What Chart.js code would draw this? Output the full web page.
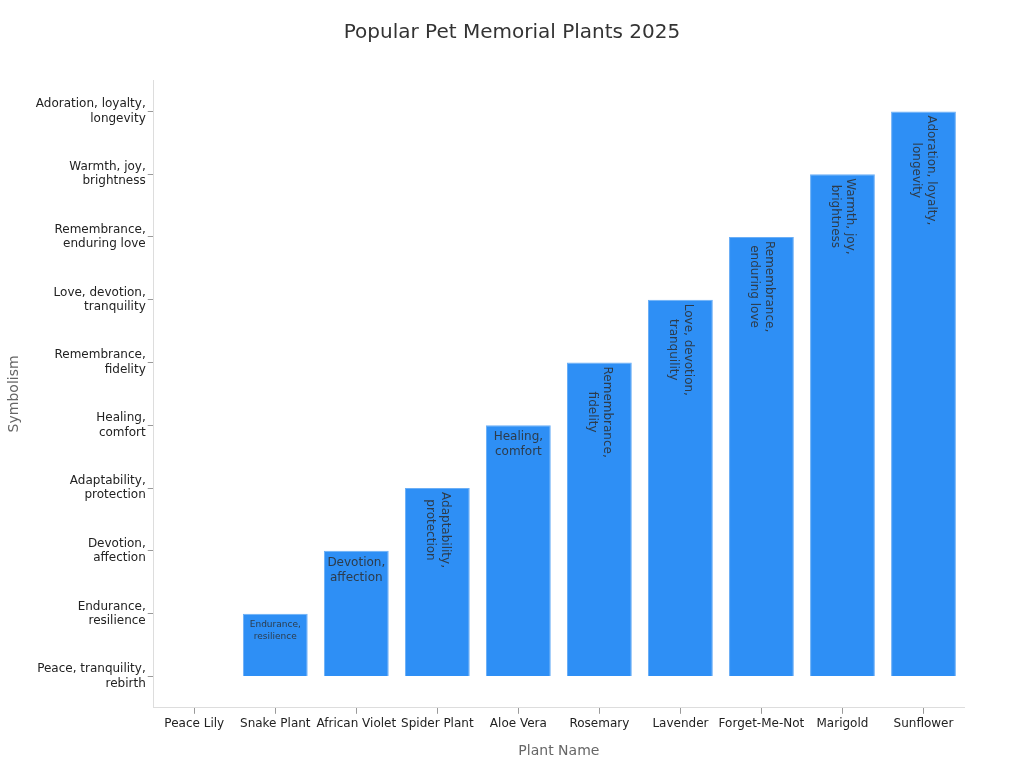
<!DOCTYPE html>
<html>
<head>
<meta charset="utf-8">
<script src="https://cdn.jsdelivr.net/npm/chart.js@4.4.1/dist/chart.umd.min.js"></script>
<style>
  html, body { margin: 0; padding: 0; background: #fff; }
  #wrap { width: 1024px; height: 768px; }
</style>
</head>
<body>
<div id="wrap"><canvas id="chart" width="1024" height="768"></canvas></div>
<script>
// plant names along the x axis
const plants = ['Peace Lily', 'Snake Plant', 'African Violet', 'Spider Plant', 'Aloe Vera',
    'Rosemary', 'Lavender', 'Forget-Me-Not', 'Marigold', 'Sunflower'];

// symbolism categories on the y axis (index = value)
const symbols = ['Peace, tranquility, rebirth', 'Endurance, resilience', 'Devotion, affection',
    'Adaptability, protection', 'Healing, comfort', 'Remembrance, fidelity',
    'Love, devotion, tranquility', 'Remembrance, enduring love', 'Warmth, joy, brightness',
    'Adoration, loyalty, longevity'];

// which symbolism each plant maps to
const symbolIndex = [0, 1, 2, 3, 4, 5, 6, 7, 8, 9];

const chartTitle = 'Popular Pet Memorial Plants 2025';

const FONT = '"DejaVu Sans", sans-serif';

// break a label after its last comma
function wrap(s) {
    const k = s.lastIndexOf(', ');
    if (k < 0) return [s];
    return [s.slice(0, k + 1), s.slice(k + 2)];
}

// title centred on the whole canvas (chart padding is lopsided)
const centredTitle = {
    id: 'centredTitle',
    afterDraw(chart) {
        const ctx = chart.ctx;
        ctx.save();
        ctx.fillStyle = '#333';
        ctx.font = '20px ' + FONT;
        ctx.textAlign = 'center';
        ctx.textBaseline = 'middle';
        ctx.fillText(chartTitle, chart.width / 2, 33);
        ctx.restore();
    }
};

const barLabels = {
    id: 'barLabels',
    afterDatasetsDraw(chart) {
        const ctx = chart.ctx;
        const meta = chart.getDatasetMeta(0);
        meta.data.forEach((bar, i) => {
            const v = symbolIndex[i];
            if (!v) return;
            const lines = wrap(symbols[v]);
            const h = bar.base - bar.y;
            ctx.save();
            ctx.fillStyle = 'rgba(45,45,45,0.85)';
            ctx.textBaseline = 'middle';
            ctx.textAlign = 'center';
            ctx.font = '12px ' + FONT;
            const maxW = Math.max(...lines.map(l => ctx.measureText(l).width));
            if (maxW <= bar.width - 4) {
                lines.forEach((l, j) => ctx.fillText(l, bar.x, bar.y + 12 + j * 15));
            } else if (h < 80) {
                ctx.font = '9px ' + FONT;
                lines.forEach((l, j) => ctx.fillText(l, bar.x, bar.y + 11 + j * 12));
            } else {
                ctx.translate(bar.x, bar.y);
                ctx.rotate(Math.PI / 2);
                const n = lines.length;
                lines.forEach((l, j) => {
                    const off = (j - (n - 1) / 2) * 15;
                    ctx.fillText(l, 4 + maxW / 2, off);
                });
            }
            ctx.restore();
        });
    }
};

new Chart(document.getElementById('chart').getContext('2d'), {
    type: 'bar',
    data: {
        labels: plants,
        datasets: [{
            label: 'Symbolism',
            data: symbolIndex,
            backgroundColor: '#2E8FF5',
            borderColor: '#6AAEF6',
            borderWidth: 1,
            barPercentage: 0.8,
            categoryPercentage: 1.0
        }]
    },
    options: {
        responsive: false,
        animation: false,
        layout: { padding: { left: 2, right: 60, top: 80, bottom: 4 } },
        plugins: {
            legend: { display: false },
            tooltip: { enabled: false },
            title: { display: false }
        },
        scales: {
            x: {
                grid: { display: true, offset: false, drawOnChartArea: false, tickLength: 6, tickColor: '#999' },
                border: { color: '#ddd' },
                ticks: { color: '#222', font: { family: FONT, size: 12 }, maxRotation: 0, autoSkip: false },
                title: {
                    display: true, text: 'Plant Name', color: '#666',
                    font: { family: FONT, size: 14 }, padding: { top: 9 }
                }
            },
            y: {
                min: -0.5,
                max: 9.5,
                afterBuildTicks: (scale) => { scale.ticks = symbols.map((s, i) => ({ value: i })); },
                grid: { display: true, drawOnChartArea: false, tickLength: 6, tickColor: '#999' },
                border: { color: '#ddd' },
                ticks: {
                    color: '#222',
                    font: { family: FONT, size: 12 },
                    callback: (v) => wrap(symbols[v] || ''),
                    padding: 2
                },
                title: {
                    display: true, text: 'Symbolism', color: '#666',
                    font: { family: FONT, size: 14 }, padding: { bottom: 11 }
                }
            }
        }
    },
    plugins: [barLabels, centredTitle]
});
</script>
</body>
</html>
